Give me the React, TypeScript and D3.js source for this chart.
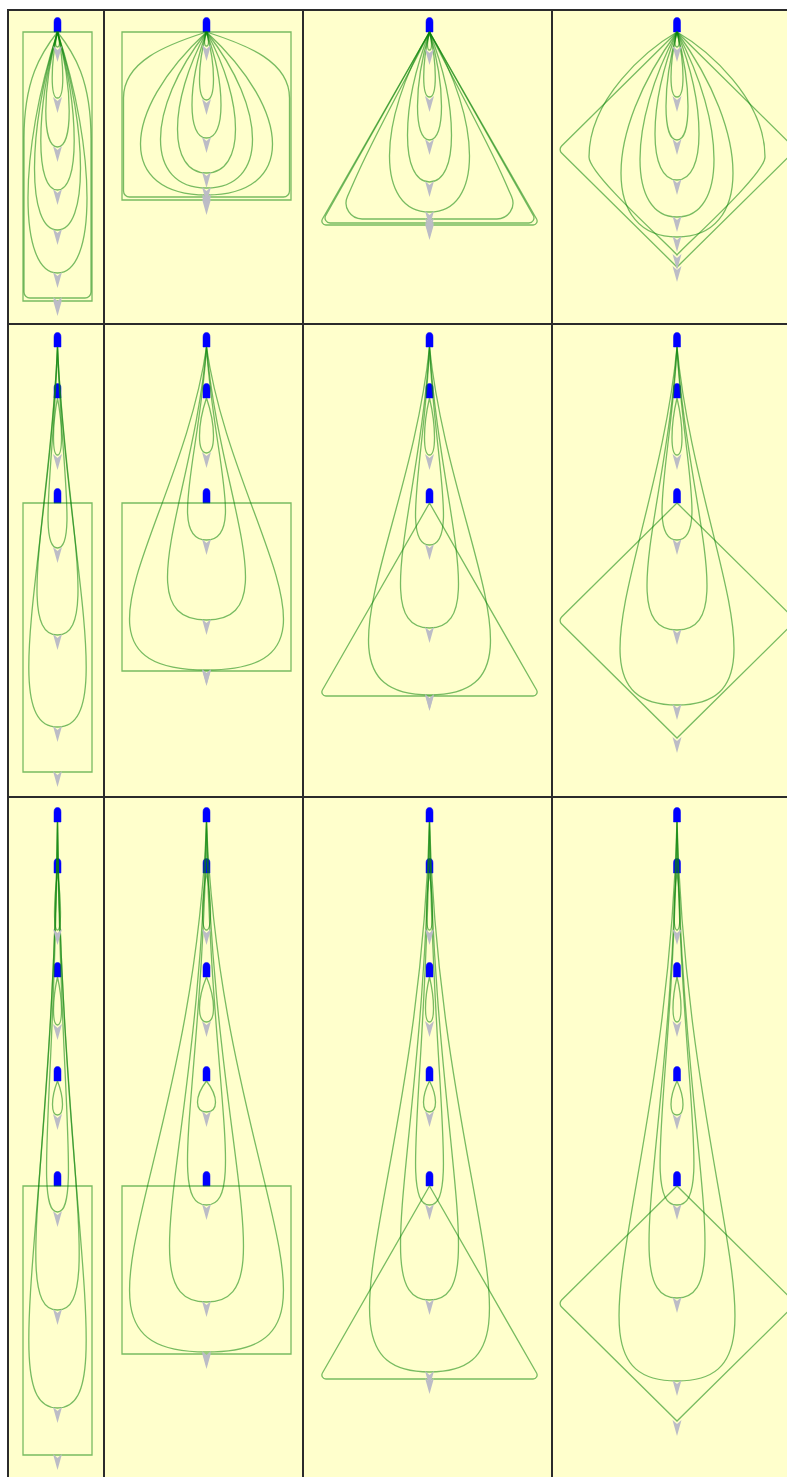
import { useMemo } from 'react';
import * as d3 from 'd3';

// node shape drawn at the last rank of each row, one per column
const SHAPES = ['box', 'square', 'triangle', 'diamond'];
const SHAPE_WIDTH = [69, 169, 221, 238];
const SHAPE_HEIGHT = [269, 168, 193, 235];

// depth of every rank (blue tail) below the first rank, per row
const RANK_DEPTHS = [[0], [0, 51, 156], [0, 51, 155, 259, 364]];

// loops per column: [tail rank, head depth, half spread, hug kind]
const LOOPS_ROW1 = [
  [[0, 15, 2], [0, 66, 5.3], [0, 115, 11.7], [0, 158, 16.7], [0, 198, 23], [0, 241, 29.5], [0, 266, 33.5, 'box']],
  [[0, 14, 2], [0, 68, 7], [0, 106, 14.5], [0, 141, 29], [0, 156, 46], [0, 163, 66], [0, 165, 83, 'box']],
  [[0, 18, 2], [0, 65, 5.8], [0, 108, 12], [0, 150, 22], [0, 180, 40], [0, 187, 92, 'tri2'], [0, 191, 108, 'tri']],
  [[0, 15, 2], [0, 65, 6], [0, 108, 11], [0, 148, 22], [0, 185, 37], [0, 205, 56], [0, 223, 88, 'dia']],
];
const LOOPS_ROW2 = [
  [[1, 108, 4], [0, 201, 9.5], [0, 288, 20.5], [0, 380, 28.7]],
  [[1, 106, 7], [0, 193, 19], [0, 273, 39], [0, 323, 77]],
  [[1, 108, 5], [0, 198, 14], [0, 281, 29], [0, 348, 61]],
  [[1, 108, 5], [0, 193, 15], [0, 283, 30], [0, 358, 57]],
];
const LOOPS_ROW3 = [
  [[1, 108, 3], [2, 203, 4], [3, 293, 5], [0, 390, 11], [0, 488, 21.7], [0, 586, 28.7]],
  [[1, 108, 4], [2, 200, 7], [3, 290, 9], [0, 383, 19], [0, 480, 37], [0, 530, 77]],
  [[1, 108, 3], [2, 200, 4], [3, 290, 6], [0, 383, 14], [0, 478, 29], [0, 550, 60]],
  [[1, 108, 3], [2, 200, 4], [3, 293, 6], [0, 383, 17], [0, 476, 28], [0, 559, 58]],
];
const LOOPS = [LOOPS_ROW1, LOOPS_ROW2, LOOPS_ROW3];

// layout
const WIDTH = 787;
const HEIGHT = 1477;
const COL_EDGES = [8, 104, 303, 552, 802];
const ROW_EDGES = [10, 324, 797, 1490];
const COL_CENTER = [57.5, 206.5, 429.5, 677];
const ROW_APEX = [32, 347, 822];
// bezier bend of the drops: plain drop, and long-necked drops per row
const PLAIN = { a: 1, b: 0.5, c: 1 };
const NECKED = [PLAIN, { a: 0.3, b: 0.55, c: 1.9 }, { a: 0.18, b: 0.68, c: 2.2 }];

const EDGE = '#0a840a';
const CELL_BG = '#ffffcc';

const bulge = (bend) => {
  let m = 0;
  for (let i = 0; i <= 200; i++) {
    const u = i / 200;
    m = Math.max(m, 3 * u * (1 - u) * (bend.a * (1 - u) + bend.c * u));
  }
  return m;
};

const dropPath = (cx, ay, by, hw, bend) => {
  const k = hw / bulge(bend);
  const h = by - ay;
  const p = d3.path();
  p.moveTo(cx, ay);
  p.bezierCurveTo(cx - bend.a * k, ay + bend.b * h, cx - bend.c * k, by, cx, by);
  p.bezierCurveTo(cx + bend.c * k, by, cx + bend.a * k, ay + bend.b * h, cx, ay);
  return p.toString();
};

const hugPath = (kind, cx, ay, by, hw) => {
  const h = by - ay;
  const p = d3.path();
  p.moveTo(cx, ay);
  if (kind === 'box') {
    const r = 6;
    p.bezierCurveTo(cx - 0.5 * hw, ay + 0.08 * h, cx - hw, ay + 0.18 * h, cx - hw, ay + 0.4 * h);
    p.lineTo(cx - hw, by - r);
    p.arcTo(cx - hw, by, cx - hw + r, by, r);
    p.lineTo(cx + hw - r, by);
    p.arcTo(cx + hw, by, cx + hw, by - r, r);
    p.lineTo(cx + hw, ay + 0.4 * h);
    p.bezierCurveTo(cx + hw, ay + 0.18 * h, cx + 0.5 * hw, ay + 0.08 * h, cx, ay);
  } else if (kind === 'tri') {
    p.arcTo(cx - hw, by, cx, by, 5);
    p.arcTo(cx + hw, by, cx, ay, 5);
    p.lineTo(cx, ay);
  } else if (kind === 'tri2') {
    // softer triangle, sides bowing a little inwards near the top
    const r = 16;
    p.bezierCurveTo(cx - 0.25 * hw, ay + 0.25 * h, cx - 0.6 * hw, ay + 0.55 * h, cx - 0.82 * hw, ay + 0.8 * h);
    p.arcTo(cx - hw, by, cx, by, r);
    p.arcTo(cx + hw, by, cx + 0.82 * hw, ay + 0.8 * h, r);
    p.lineTo(cx + 0.82 * hw, ay + 0.8 * h);
    p.bezierCurveTo(cx + 0.6 * hw, ay + 0.55 * h, cx + 0.25 * hw, ay + 0.25 * h, cx, ay);
  } else {
    const ym = ay + 0.56 * h;
    p.bezierCurveTo(cx - 0.35 * hw, ay + 0.08 * h, cx - hw, ay + 0.3 * h, cx - hw, ym);
    p.bezierCurveTo(cx - hw, ym + 0.08 * h, cx - 0.08 * hw, by - 0.04 * h, cx, by);
    p.bezierCurveTo(cx + 0.08 * hw, by - 0.04 * h, cx + hw, ym + 0.08 * h, cx + hw, ym);
    p.bezierCurveTo(cx + hw, ay + 0.3 * h, cx + 0.35 * hw, ay + 0.08 * h, cx, ay);
  }
  return p.toString();
};

const outlinePath = (shape, cx, top, w, h) => {
  const p = d3.path();
  const hw = w / 2;
  const bot = top + h;
  if (shape === 'box' || shape === 'square') {
    p.rect(cx - hw, top, w, h);
  } else if (shape === 'triangle') {
    p.moveTo(cx, top);
    p.arcTo(cx - hw, bot, cx, bot, 4);
    p.arcTo(cx + hw, bot, cx, top, 4);
    p.closePath();
  } else {
    p.moveTo(cx, top);
    p.arcTo(cx - hw, top + h / 2, cx, bot, 5);
    p.lineTo(cx, bot);
    p.arcTo(cx + hw, top + h / 2, cx, top, 5);
    p.closePath();
  }
  return p.toString();
};

const arrowPath = (cx, y) => {
  const p = d3.path();
  p.moveTo(cx - 4.5, y - 1);
  p.lineTo(cx, y + 3);
  p.lineTo(cx + 4.5, y - 1);
  p.lineTo(cx, y + 15);
  p.closePath();
  return p.toString();
};

const tailPath = (cx, y) => {
  const p = d3.path();
  p.moveTo(cx - 3.5, y);
  p.lineTo(cx - 3.5, y - 10);
  p.quadraticCurveTo(cx - 3.5, y - 14.5, cx, y - 14.5);
  p.quadraticCurveTo(cx + 3.5, y - 14.5, cx + 3.5, y - 10);
  p.lineTo(cx + 3.5, y);
  p.closePath();
  return p.toString();
};

const App = () => {
  const { cells, edges, arrows, tails } = useMemo(() => {
    const cells = [];
    const edges = [];
    const arrows = [];
    const tails = [];
    ROW_APEX.forEach((apexY, r) => {
      const y = d3.scaleLinear().domain([0, 1]).range([apexY, apexY + 1]);
      const ranks = RANK_DEPTHS[r];
      COL_CENTER.forEach((cx, c) => {
        const x = d3.scaleLinear().domain([0, 1]).range([cx, cx + 1]);
        cells.push({
          key: `${r}-${c}`,
          x: COL_EDGES[c] + 0.5,
          y: ROW_EDGES[r] + 0.5,
          w: COL_EDGES[c + 1] - COL_EDGES[c] - 1,
          h: ROW_EDGES[r + 1] - ROW_EDGES[r] - 1,
        });
        ranks.forEach((d, i) => tails.push({ key: `t${r}-${c}-${i}`, d: tailPath(x(0), y(d)) }));
        LOOPS[r][c].forEach(([rank, depth, spread, kind], i) => {
          const ay = y(ranks[rank]);
          const by = y(depth);
          const hw = x(spread) - x(0);
          // only loops from the first rank get the long neck
          const bend = rank === 0 ? NECKED[r] : PLAIN;
          const d = kind ? hugPath(kind, x(0), ay, by, hw) : dropPath(x(0), ay, by, hw, bend);
          edges.push({ key: `e${r}-${c}-${i}`, d });
          arrows.push({ key: `a${r}-${c}-${i}`, d: arrowPath(x(0), by) });
        });
        const top = y(ranks[ranks.length - 1]);
        const shapeH = SHAPE_HEIGHT[c];
        edges.push({ key: `s${r}-${c}`, d: outlinePath(SHAPES[c], x(0), top, SHAPE_WIDTH[c], shapeH) });
        arrows.push({ key: `sa${r}-${c}`, d: arrowPath(x(0), top + shapeH) });
      });
    });
    return { cells, edges, arrows, tails };
  }, []);

  return (
    <svg
      width={WIDTH}
      height={HEIGHT}
      style={{ position: 'absolute', left: 0, top: 0, display: 'block', background: '#fff' }}
    >
      <defs>
        <clipPath id="page">
          <rect x={0} y={0} width={WIDTH} height={HEIGHT} />
        </clipPath>
      </defs>
      <g clipPath="url(#page)">
        <rect x={7.5} y={9.5} width={WIDTH} height={HEIGHT} fill="none" stroke="#2b2b2b" />
        {cells.map((cell) => (
          <rect
            key={cell.key}
            x={cell.x}
            y={cell.y}
            width={cell.w}
            height={cell.h}
            fill={CELL_BG}
            stroke="#2b2b2b"
            strokeWidth={1}
          />
        ))}
        {tails.map((t) => (
          <path key={t.key} d={t.d} fill="#0000ff" stroke="#0000ff" strokeWidth={0.5} />
        ))}
        {edges.map((e) => (
          <path key={e.key} d={e.d} fill="none" stroke={EDGE} strokeOpacity={0.55} strokeWidth={1.3} />
        ))}
        {arrows.map((a) => (
          <path key={a.key} d={a.d} fill="#bcbcc6" />
        ))}
      </g>
    </svg>
  );
};

export default App;
